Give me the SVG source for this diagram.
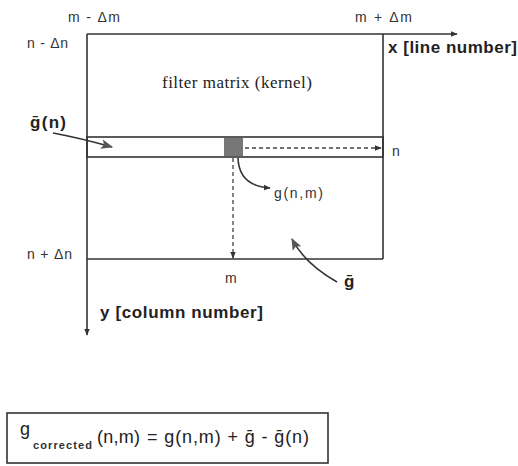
<svg xmlns="http://www.w3.org/2000/svg" width="518" height="466" viewBox="0 0 518 466">
<defs>
<style>
.ln{stroke:#333;stroke-width:1.6;fill:none}
.ds{stroke:#444;stroke-width:1.3;fill:none;stroke-dasharray:4 3}
.lb{font-family:"Liberation Sans",Arial,sans-serif;font-size:14px;fill:#333}
.bd{font-family:"Liberation Sans",Arial,sans-serif;font-size:17px;font-weight:bold;fill:#222}
.sf{font-family:"Liberation Serif","Times New Roman",serif;font-size:17px;fill:#222}
.fm{font-family:"Liberation Sans",Arial,sans-serif;font-size:18px;fill:#222}
</style>
<marker id="ah" viewBox="0 0 10 10" refX="9" refY="5" markerWidth="7" markerHeight="7" markerUnits="userSpaceOnUse" orient="auto"><path d="M0,1 L10,5 L0,9 Z" fill="#333"/></marker>
<marker id="ahb" viewBox="0 0 10 10" refX="9" refY="5" markerWidth="18" markerHeight="12" markerUnits="userSpaceOnUse" orient="auto"><path d="M0,1 L10,5 L0,9 L2,5 Z" fill="#555"/></marker>
</defs>
<rect width="518" height="466" fill="#fff"/>
<g id="axes">
<line class="ln" x1="87" y1="34" x2="457" y2="34" marker-end="url(#ah)"/>
<line class="ln" x1="87" y1="34" x2="87" y2="335" marker-end="url(#ah)"/>
</g>
<g id="matrix">
<line class="ln" x1="383" y1="34" x2="383" y2="259"/>
<line class="ln" x1="87" y1="259" x2="383" y2="259"/>
<text class="sf" x="162" y="88" textLength="150">filter matrix (kernel)</text>
</g>
<g id="row">
<rect x="87" y="137" width="296" height="20" class="ln"/>
</g>
<g id="pixel">
<rect x="224" y="138" width="19" height="18" fill="#777"/>
</g>
<g id="connectors">
<line class="ds" x1="245" y1="148" x2="381" y2="148" marker-end="url(#ah)"/>
<line class="ds" x1="233" y1="158" x2="233" y2="258" marker-end="url(#ah)"/>
<path class="ln" d="M238,158 Q239,186 270,188" marker-end="url(#ah)" stroke-width="1.3"/>
<path class="ln" d="M53,133 Q80,138 112,147" marker-end="url(#ahb)"/>
<path class="ln" d="M337,282 Q305,264 292,239" marker-end="url(#ahb)"/>
</g>
<g id="labels">
<text class="lb" x="68" y="22" textLength="52">m - Δm</text>
<text class="lb" x="355" y="22" textLength="57">m + Δm</text>
<text class="lb" x="27" y="48" textLength="41">n - Δn</text>
<text class="lb" x="27" y="259" textLength="45">n + Δn</text>
<text class="lb" x="392" y="156">n</text>
<text class="lb" x="225" y="283">m</text>
<text class="lb" x="274" y="198" font-size="15" textLength="49">g(n,m)</text>
<text class="bd" x="388" y="53" textLength="129">x [line number]</text>
<text class="bd" x="100" y="318" textLength="163">y [column number]</text>
<text class="bd" x="30" y="128" font-size="16" textLength="36">ḡ(n)</text>
<text class="bd" x="344" y="287" font-size="16">ḡ</text>
</g>
<g id="formula">
<rect x="7" y="413" width="321" height="50" fill="none" stroke="#333" stroke-width="1.6"/>
<text class="fm" x="20" y="435">g</text>
<text x="33" y="449" font-family="'Liberation Sans',Arial,sans-serif" font-size="11" font-weight="bold" fill="#333" textLength="59">corrected</text>
<text class="fm" x="97" y="443" textLength="43">(n,m)</text>
<text class="fm" x="147" y="443" textLength="162">= g(n,m) + ḡ - ḡ(n)</text>
</g>
</svg>
